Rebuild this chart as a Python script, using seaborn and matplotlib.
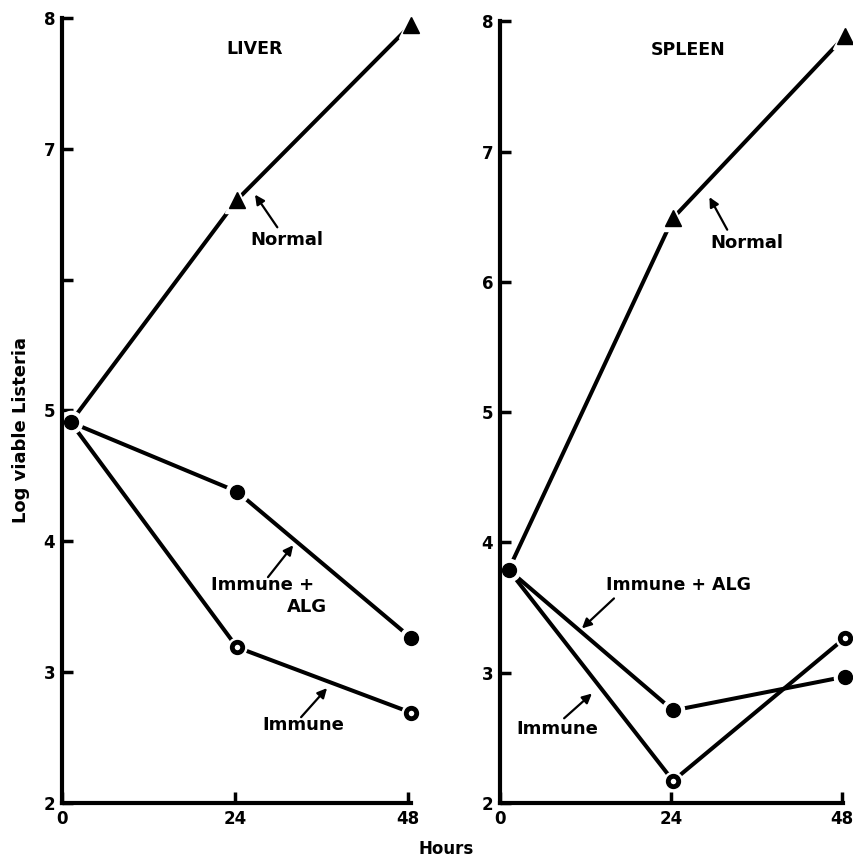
import matplotlib
matplotlib.use("Agg")
import matplotlib.pyplot as plt
import seaborn as sns

# hours after infection (first sample plotted just right of 0)
hours = [1.2, 24.3, 48.5]

# LIVER
liver_normal = [4.91, 6.61, 7.95]
liver_alg = [4.91, 4.38, 3.26]
liver_immune = [4.91, 3.19, 2.69]

# SPLEEN
spleen_normal = [3.79, 6.49, 7.89]
spleen_alg = [3.79, 2.71, 2.97]
spleen_immune = [3.79, 2.17, 3.27]

yticks = [2, 3, 4, 5, 6, 7, 8]
liver_ylabels = ["2", "3", "4", "5", "", "7", "8"]
spleen_ylabels = ["2", "3", "4", "5", "6", "7", "8"]
xticks = [0, 24, 48]

sns.set_style("white")
plt.rcParams['font.family'] = ['DejaVu Sans']
plt.rcParams['font.weight'] = 'bold'
plt.rcParams['text.color'] = 'black'
plt.rcParams['xtick.color'] = 'black'
plt.rcParams['ytick.color'] = 'black'

fig = plt.figure(figsize=(8.54, 8.60), dpi=100)
ax1 = fig.add_axes([0.0726, 0.0663, 0.409, 0.9128])
ax2 = fig.add_axes([0.5855, 0.0663, 0.402, 0.909])

LW = 2.9


def draw_series(ax, y, marker, ms, face, mew):
    sns.lineplot(x=hours, y=y, ax=ax, color='black', lw=LW, zorder=2,
                 estimator=None, sort=False)
    # white halo so the line stops short of the marker
    ax.plot(hours[1:], y[1:], linestyle='none', marker=marker, ms=ms + 6,
            mfc='white', mec='white', zorder=2.2, clip_on=False)
    ax.plot(hours[1:], y[1:], linestyle='none', marker=marker, ms=ms,
            mfc=face, mec='black', mew=mew, zorder=4, clip_on=False)


def panel(ax, normal, alg, immune, ylabels, xmax, title, tx, ty):
    draw_series(ax, normal, '^', 12, 'black', 1)
    draw_series(ax, alg, 'o', 10, 'black', 1)
    draw_series(ax, immune, 'o', 7.5, 'white', 3.5)
    ax.plot(hours[:1], normal[:1], linestyle='none', marker='o', ms=16,
            mfc='white', mec='white', zorder=2.2, clip_on=False)
    ax.plot(hours[:1], normal[:1], linestyle='none', marker='o', ms=10,
            mfc='black', mec='black', zorder=4, clip_on=False)

    ax.set_xlim(0, xmax)
    ax.set_ylim(2, 8)
    ax.set_yticks(yticks)
    ax.set_yticklabels(ylabels)
    ax.set_xticks(xticks)
    ax.set_xticklabels([str(t) for t in xticks])
    ax.tick_params(direction='in', length=8, width=2.5, labelsize=12, pad=5,
                   left=True, bottom=True, colors='black')
    for lab in ax.get_xticklabels() + ax.get_yticklabels():
        lab.set_fontweight('bold')
    sns.despine(ax=ax)
    for s in ['left', 'bottom']:
        ax.spines[s].set_linewidth(3)
        ax.spines[s].set_color('black')
        ax.spines[s].set_zorder(2.5)
    ax.set_xlabel('')
    ax.set_ylabel('')
    ax.text(tx, ty, title, ha='center', va='center', fontsize=12.5,
            fontweight='bold')


panel(ax1, liver_normal, liver_alg, liver_immune, liver_ylabels, 48.5,
      'LIVER', 26.8, 7.76)
panel(ax2, spleen_normal, spleen_alg, spleen_immune, spleen_ylabels, 48.2,
      'SPLEEN', 26.4, 7.78)

arrow = dict(arrowstyle='-|>', lw=1.6, color='black', mutation_scale=14,
             shrinkA=0, shrinkB=0)
fs = 13

# LIVER labels
ax1.annotate('', xy=(26.8, 6.65), xytext=(29.9, 6.40), arrowprops=arrow)
ax1.text(31.25, 6.30, 'Normal', ha='center', va='center', fontsize=fs,
         fontweight='bold')
ax1.annotate('', xy=(32.1, 3.97), xytext=(28.6, 3.726), arrowprops=arrow)
ax1.text(27.8, 3.665, 'Immune +', ha='center', va='center', fontsize=fs,
         fontweight='bold')
ax1.text(34.0, 3.497, 'ALG', ha='center', va='center', fontsize=fs,
         fontweight='bold')
ax1.annotate('', xy=(36.8, 2.878), xytext=(33.2, 2.656), arrowprops=arrow)
ax1.text(33.5, 2.595, 'Immune', ha='center', va='center', fontsize=fs,
         fontweight='bold')

# SPLEEN labels
ax2.annotate('', xy=(29.4, 6.65), xytext=(31.9, 6.40), arrowprops=arrow)
ax2.text(34.7, 6.30, 'Normal', ha='center', va='center', fontsize=fs,
         fontweight='bold')
ax2.annotate('', xy=(11.5, 3.34), xytext=(16.0, 3.57), arrowprops=arrow)
ax2.text(25.0, 3.67, 'Immune + ALG', ha='center', va='center', fontsize=12.5,
         fontweight='bold')
ax2.annotate('', xy=(12.9, 2.84), xytext=(9.0, 2.65), arrowprops=arrow)
ax2.text(8.06, 2.57, 'Immune', ha='center', va='center', fontsize=fs,
         fontweight='bold')

fig.text(21 / 854, 1 - 430 / 860, 'Log viable Listeria', rotation=90,
         ha='center', va='center', fontsize=13, fontweight='bold')
fig.text(446 / 854, 1 - 849 / 860, 'Hours', ha='center', va='center',
         fontsize=12, fontweight='bold')

fig.savefig('out.png', dpi=100)
